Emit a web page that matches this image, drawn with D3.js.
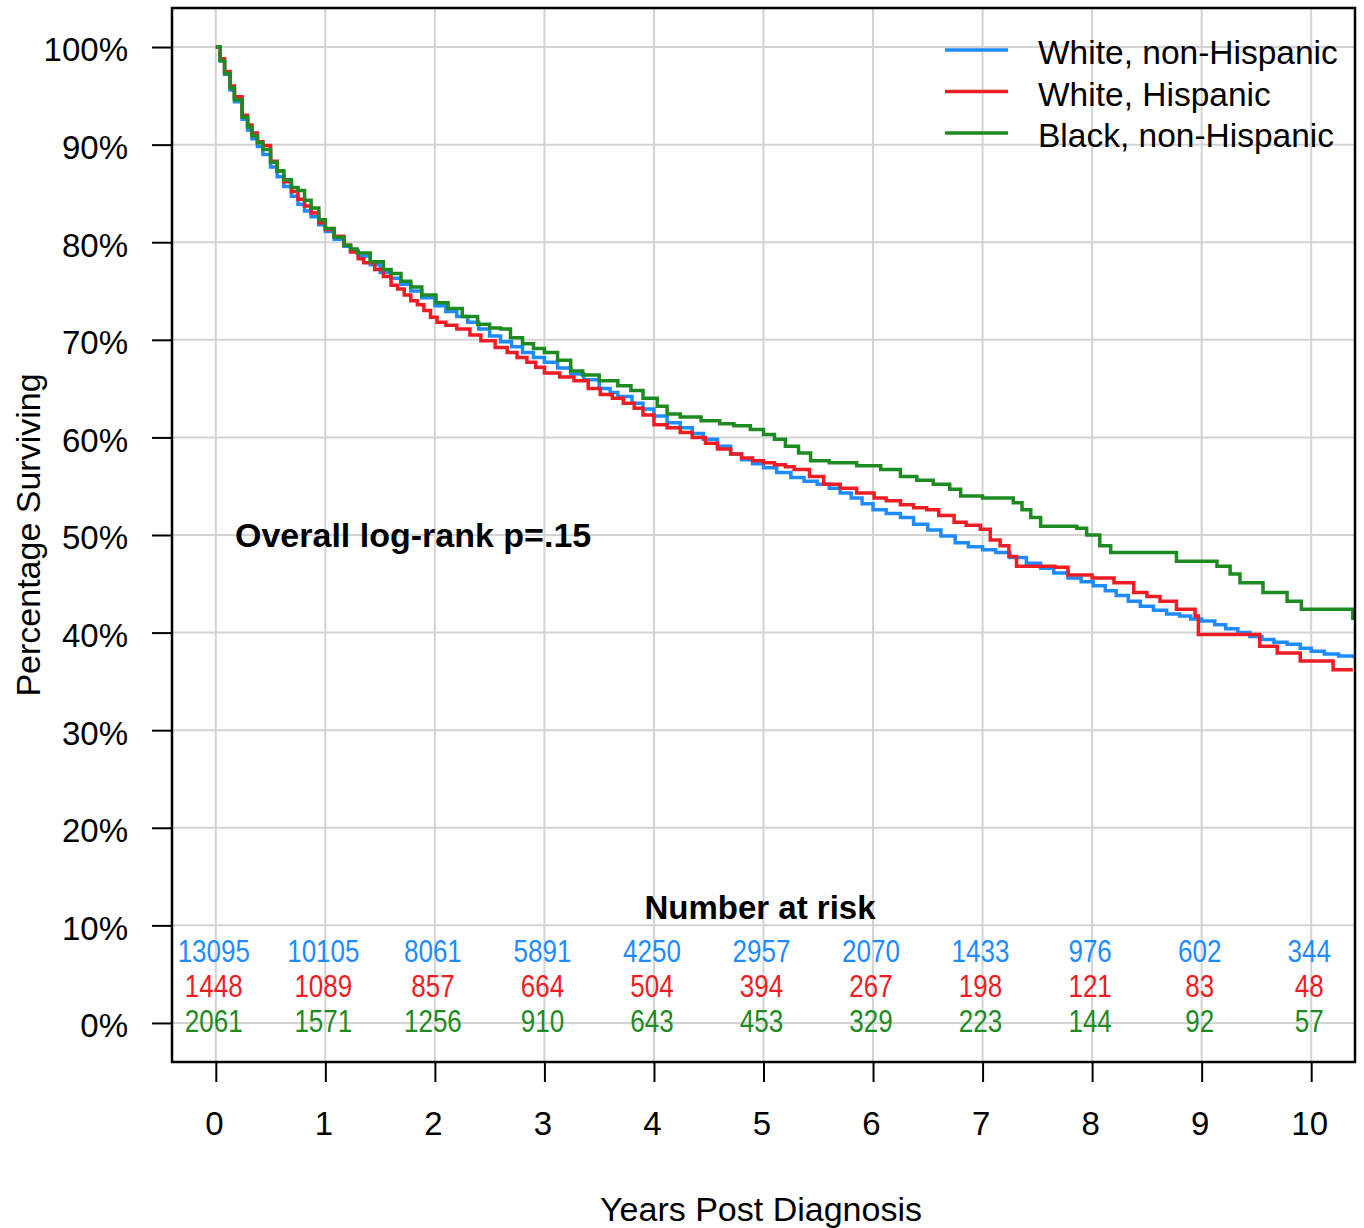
<!DOCTYPE html>
<html>
<head>
<meta charset="utf-8">
<script src="https://cdn.jsdelivr.net/npm/d3@7"></script>
<style>
  body { margin: 0; background: #fff; }
  text { font-family: "Liberation Sans", Arial, sans-serif; }
</style>
</head>
<body>
<svg id="svg" width="1364" height="1228"></svg>
<script>
// ---- data ----
var years = [0,1,2,3,4,5,6,7,8,9,10];
var percentTicks = [0,10,20,30,40,50,60,70,80,90,100];
var groups = ["White, non-Hispanic", "White, Hispanic", "Black, non-Hispanic"];
var colors = ["#1e8cff", "#f01c24", "#1e8a22"];

// Kaplan-Meier curves (years, % surviving)
var whiteNHTime = [0,0.04,0.08,0.13,0.17,0.24,0.29,0.33,0.38,0.43,0.5,0.56,0.62,0.69,0.75,0.81,0.87,0.94,1.0,1.08,1.17,1.23,1.3,1.41,1.5,1.6,1.69,1.78,1.88,2.0,2.1,2.2,2.3,2.4,2.5,2.6,2.7,2.8,2.9,3.0,3.12,3.24,3.36,3.5,3.6,3.67,3.8,3.9,4.0,4.12,4.24,4.35,4.45,4.58,4.7,4.8,4.9,5.0,5.12,5.25,5.37,5.49,5.6,5.7,5.8,5.9,6.0,6.12,6.25,6.37,6.5,6.62,6.75,6.87,7.0,7.12,7.25,7.4,7.53,7.65,7.78,7.9,8.01,8.12,8.22,8.33,8.44,8.56,8.68,8.8,8.9,9.0,9.12,9.22,9.33,9.44,9.55,9.66,9.78,9.9,10.0,10.12,10.25,10.38];
var whiteNHSurv = [100,98.6,97.2,95.6,94.4,92.6,91.5,90.6,89.8,89.0,87.7,86.7,85.7,84.7,83.9,83.2,82.6,81.8,81.1,80.3,79.6,79.1,78.6,77.7,76.9,76.3,75.7,75.0,74.3,73.5,72.9,72.4,71.8,71.1,70.4,69.8,69.3,68.7,68.2,67.7,67.1,66.5,65.9,65.0,64.6,64.2,63.5,62.9,62.2,61.5,61.0,60.4,59.8,59.1,58.3,57.7,57.3,56.9,56.4,55.9,55.5,55.2,54.8,54.3,53.8,53.2,52.6,52.2,51.8,51.1,50.5,49.9,49.2,48.8,48.5,48.2,47.7,47.1,46.6,46.1,45.6,45.2,44.8,44.3,43.8,43.2,42.7,42.3,41.9,41.7,41.4,41.2,40.8,40.4,40.0,39.6,39.3,39.0,38.8,38.4,38.1,37.8,37.6,37.4];

var whiteHTime = [0,0.04,0.08,0.13,0.17,0.24,0.29,0.33,0.38,0.43,0.5,0.56,0.62,0.69,0.75,0.81,0.87,0.94,1.0,1.08,1.17,1.23,1.3,1.35,1.45,1.53,1.6,1.66,1.72,1.78,1.84,1.9,1.96,2.02,2.1,2.2,2.32,2.42,2.55,2.66,2.75,2.84,2.92,3.0,3.14,3.27,3.4,3.51,3.62,3.72,3.82,3.9,4.0,4.12,4.24,4.35,4.47,4.58,4.7,4.8,4.9,5.0,5.1,5.2,5.28,5.42,5.55,5.7,5.85,6.01,6.12,6.25,6.37,6.49,6.6,6.74,6.85,6.98,7.07,7.16,7.24,7.31,7.5,7.66,7.78,8.0,8.2,8.38,8.5,8.62,8.77,8.94,8.97,9.47,9.53,9.69,9.9,10.2,10.38];
var whiteHSurv = [100,98.8,97.5,96.0,94.9,93.0,92.0,91.2,90.3,89.9,88.3,87.3,86.2,85.2,84.4,83.7,83.0,82.0,81.3,80.6,79.7,79.0,78.3,77.9,77.2,76.5,75.6,75.2,74.6,74.0,73.6,73.0,72.3,71.8,71.5,71.1,70.5,69.9,69.2,68.7,68.2,67.7,67.2,66.6,66.2,65.8,65.0,64.4,64.0,63.5,63.0,62.3,61.3,61.0,60.5,60.0,59.4,58.8,58.3,57.9,57.6,57.4,57.2,57.0,56.7,56.0,55.2,54.8,54.3,53.8,53.5,53.1,52.8,52.6,52.0,51.3,51.0,50.6,49.5,48.9,47.8,46.8,46.8,46.7,45.9,45.6,45.1,44.1,43.7,43.2,42.4,41.7,39.8,39.8,38.6,37.9,37.1,36.2,36.2];

var blackNHTime = [0,0.04,0.08,0.13,0.17,0.24,0.29,0.33,0.38,0.43,0.5,0.56,0.62,0.69,0.75,0.81,0.87,0.94,1.0,1.08,1.17,1.23,1.29,1.41,1.53,1.6,1.69,1.78,1.88,2.01,2.12,2.25,2.39,2.5,2.6,2.69,2.8,2.9,3.0,3.12,3.24,3.35,3.5,3.67,3.79,3.9,4.03,4.12,4.24,4.43,4.6,4.73,4.88,5.0,5.1,5.2,5.32,5.43,5.6,5.85,6.07,6.25,6.4,6.55,6.7,6.8,7.0,7.28,7.36,7.44,7.53,7.86,7.95,8.07,8.17,8.68,8.77,9.14,9.26,9.35,9.56,9.78,9.91,10.38];
var blackNHSurv = [100,98.6,97.3,95.8,94.6,92.8,91.8,90.9,90.2,89.5,88.2,87.3,86.4,85.6,85.3,84.3,83.5,82.3,81.4,80.5,79.7,79.3,78.9,78.0,77.2,76.8,76.0,75.4,74.6,73.8,73.2,72.4,71.6,71.2,71.1,70.2,69.6,69.1,68.7,67.9,66.8,66.4,65.8,65.3,64.8,64.0,63.2,62.4,62.1,61.7,61.4,61.2,60.8,60.3,59.8,59.1,58.4,57.6,57.4,57.1,56.7,56.0,55.6,55.2,54.7,54.0,53.8,53.3,52.6,51.8,50.9,50.7,50.0,48.9,48.2,48.2,47.3,46.8,46.0,45.1,44.1,43.2,42.4,41.3];

// number at risk at each year
var atRiskWhiteNH = [13095,10105,8061,5891,4250,2957,2070,1433,976,602,344];
var atRiskWhiteH = [1448,1089,857,664,504,394,267,198,121,83,48];
var atRiskBlackNH = [2061,1571,1256,910,643,453,329,223,144,92,57];

var curves = [
  {time: whiteNHTime, surv: whiteNHSurv},
  {time: whiteHTime, surv: whiteHSurv},
  {time: blackNHTime, surv: blackNHSurv}
];
var atRisk = [atRiskWhiteNH, atRiskWhiteH, atRiskBlackNH];

// ---- layout ----
var plotLeft = 172, plotRight = 1355, plotTop = 8, plotBottom = 1062;

var x = d3.scaleLinear().domain([-0.4, 10.4]).range([plotLeft, plotRight]);
var y = d3.scaleLinear().domain([-4, 104]).range([plotBottom, plotTop]);

var svg = d3.select("#svg");

svg.append("defs").append("clipPath").attr("id", "clip")
  .append("rect")
  .attr("x", plotLeft).attr("y", plotTop)
  .attr("width", plotRight - plotLeft).attr("height", plotBottom - plotTop);

// grid
svg.append("g").selectAll("line")
  .data(years).enter().append("line")
  .attr("x1", function(d){ return x(d); })
  .attr("x2", function(d){ return x(d); })
  .attr("y1", plotTop).attr("y2", plotBottom)
  .attr("stroke", "#d3d3d3").attr("stroke-width", 2);

svg.append("g").selectAll("line")
  .data(percentTicks).enter().append("line")
  .attr("y1", function(d){ return y(d); })
  .attr("y2", function(d){ return y(d); })
  .attr("x1", plotLeft).attr("x2", plotRight)
  .attr("stroke", "#d3d3d3").attr("stroke-width", 2);

// axes
var yAxis = d3.axisLeft(y)
  .tickValues(percentTicks)
  .tickSize(20)
  .tickPadding(24)
  .tickFormat(function(d){ return d + "%"; });

var gy = svg.append("g")
  .attr("transform", "translate(" + plotLeft + ",0)")
  .call(yAxis);
gy.select(".domain").remove();
gy.selectAll(".tick line").attr("stroke", "#000").attr("stroke-width", 2);
gy.selectAll(".tick text")
  .attr("font-family", "Liberation Sans, Arial, sans-serif")
  .attr("font-size", 33).attr("fill", "#000")
  .attr("dy", "0.42em");

var xAxis = d3.axisBottom(x)
  .tickValues(years)
  .tickSize(20)
  .tickPadding(30)
  .tickFormat(d3.format("d"));

var gx = svg.append("g")
  .attr("transform", "translate(0," + plotBottom + ")")
  .call(xAxis);
gx.select(".domain").remove();
gx.selectAll(".tick line").attr("stroke", "#000").attr("stroke-width", 2);
gx.selectAll(".tick text")
  .attr("font-family", "Liberation Sans, Arial, sans-serif")
  .attr("font-size", 33).attr("fill", "#000")
  .attr("x", -2);

// survival curves
var line = d3.line()
  .x(function(d){ return x(d[0]); })
  .y(function(d){ return y(d[1]); })
  .curve(d3.curveStepAfter);

svg.append("g").attr("clip-path", "url(#clip)")
  .selectAll("path")
  .data(curves).enter().append("path")
  .attr("d", function(c){ return line(d3.zip(c.time, c.surv)); })
  .attr("fill", "none")
  .attr("stroke", function(c, i){ return colors[i]; })
  .attr("stroke-width", 3.5);

// box
svg.append("rect")
  .attr("x", plotLeft).attr("y", plotTop)
  .attr("width", plotRight - plotLeft).attr("height", plotBottom - plotTop)
  .attr("fill", "none").attr("stroke", "#000").attr("stroke-width", 2.5);

// legend
var legend = svg.append("g").selectAll("g")
  .data(groups).enter().append("g")
  .attr("transform", function(d, i){ return "translate(0," + (50 + i * 41.5) + ")"; });
legend.append("line")
  .attr("x1", 945).attr("x2", 1008)
  .attr("stroke", function(d, i){ return colors[i]; })
  .attr("stroke-width", 3.5);
legend.append("text")
  .attr("x", 1038).attr("y", 14)
  .attr("font-size", 33.5)
  .attr("fill", "#000")
  .text(function(d){ return d; });

// p-value
svg.append("text")
  .attr("x", 235).attr("y", 547)
  .attr("font-size", 34).attr("font-weight", "bold")
  .text("Overall log-rank p=.15");

// number at risk
svg.append("text")
  .attr("x", 760).attr("y", 919)
  .attr("text-anchor", "middle")
  .attr("font-size", 33).attr("font-weight", "bold")
  .text("Number at risk");

// condensed digits, like the narrow font of the original
atRisk.forEach(function(row, r){
  svg.append("g").selectAll("text")
    .data(row).enter().append("text")
    .attr("transform", function(d, i){
      return "translate(" + (x(years[i]) - 2) + "," + (962 + r * 35) + ") scale(0.84,1)";
    })
    .attr("text-anchor", "middle")
    .attr("font-size", 31)
    .attr("fill", colors[r])
    .text(function(d){ return d; });
});

// axis titles
svg.append("text")
  .attr("x", 761).attr("y", 1221)
  .attr("text-anchor", "middle")
  .attr("font-size", 34)
  .text("Years Post Diagnosis");

svg.append("text")
  .attr("transform", "translate(40,535) rotate(-90)")
  .attr("text-anchor", "middle")
  .attr("font-size", 34)
  .text("Percentage Surviving");
</script>
</body>
</html>
